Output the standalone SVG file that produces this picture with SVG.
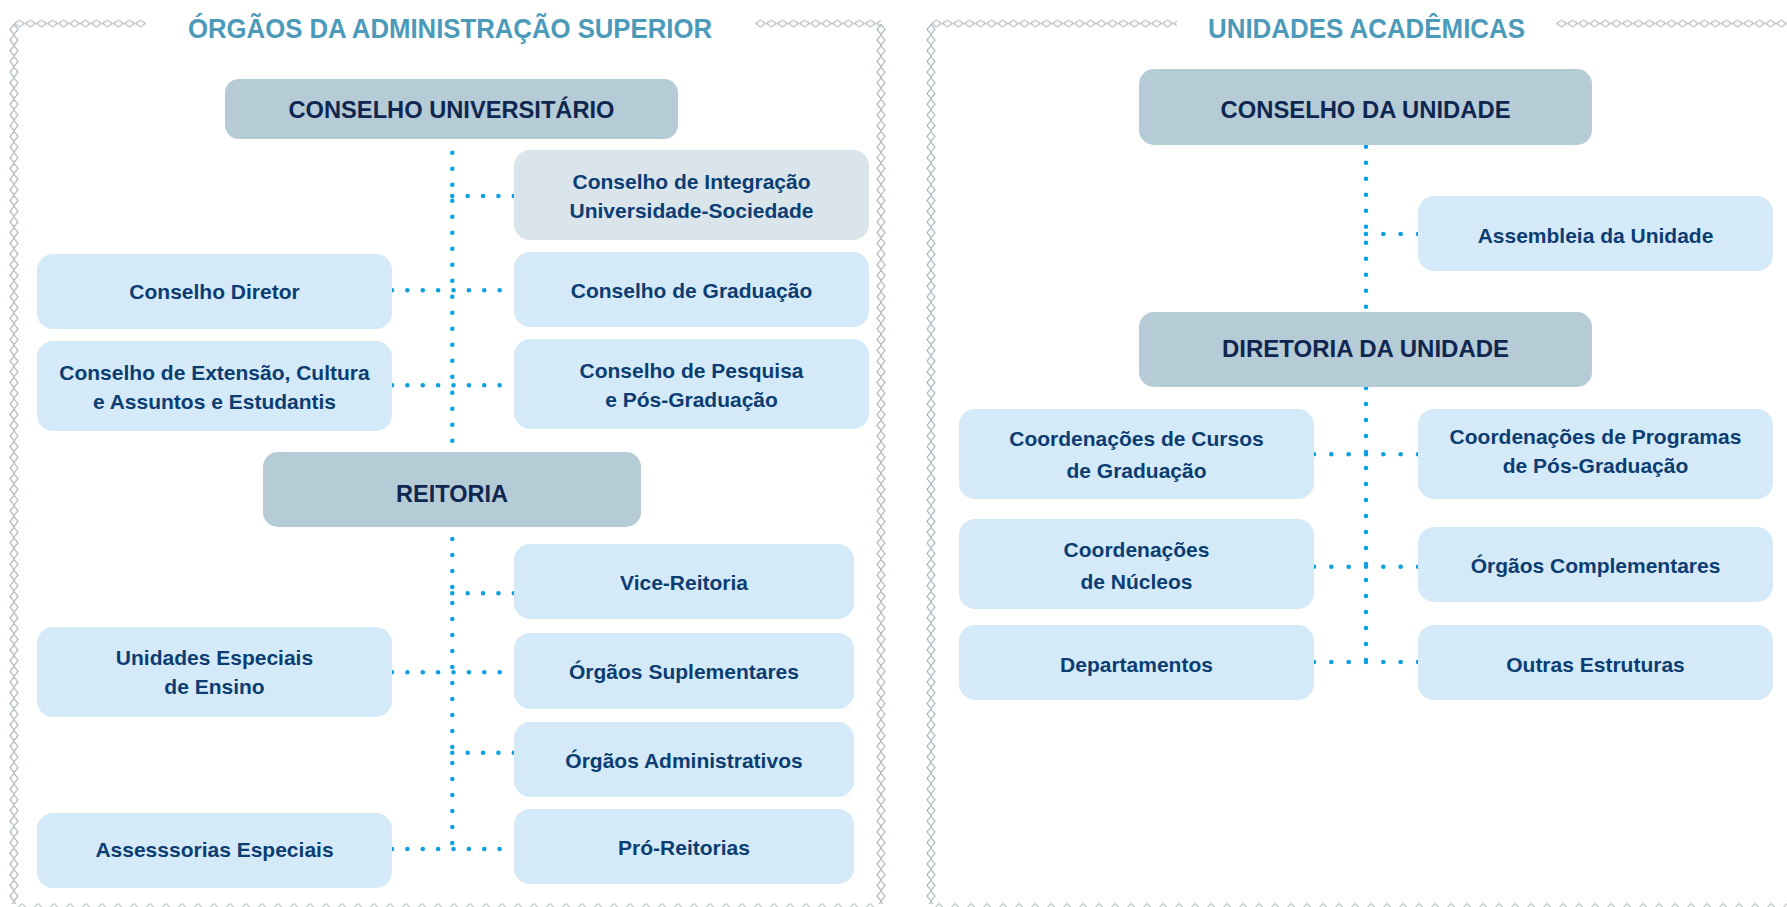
<svg xmlns="http://www.w3.org/2000/svg" width="1787" height="907" viewBox="0 0 1787 907">
<style>
.hdr rect{fill:#b5cbd6}
.hdr text{font-family:"Liberation Sans",Arial,sans-serif;font-weight:bold;font-size:24px;fill:#0f2750;text-anchor:middle}
.nd rect{fill:#d5eaf8}
.nd.grey rect{fill:#d9e4eb}
.nd text{font-family:"Liberation Sans",Arial,sans-serif;font-weight:bold;font-size:21px;fill:#0b3d73;text-anchor:middle}
.ttl{font-family:"Liberation Sans",Arial,sans-serif;font-weight:bold;font-size:27px;fill:#4b9aba}
.dot{fill:none;stroke:#0aa0e2;stroke-width:4.6;stroke-linecap:round}
.dv{stroke-dasharray:0 16}
.dh{stroke-dasharray:0 15.375}
.dr{stroke-dasharray:0 17.33}
.chain{fill:none;stroke:#97a3ad;stroke-width:1}
</style>
<defs>
<pattern id="chainH" patternUnits="userSpaceOnUse" x="0" y="0" width="11" height="8"><path class="chain" d="M0.5 4 L5.5 0.6 L10.5 4 L5.5 7.4 Z"/></pattern>
<pattern id="chainV" patternUnits="userSpaceOnUse" x="0" y="0" width="10" height="10.7"><path class="chain" d="M5 0.5 L9 5.35 L5 10.2 L1 5.35 Z"/></pattern>
<pattern id="chainB" patternUnits="userSpaceOnUse" x="0" y="0" width="16" height="8"><path class="chain" d="M4.5 4 L8 0.5 L11.5 4 L8 7.5 Z"/></pattern>
</defs>
<rect width="1787" height="907" fill="#ffffff"/>
<g id="borders">
<g transform="translate(14,19.5)"><rect width="132" height="8" fill="url(#chainH)"/></g>
<g transform="translate(755,19.5)"><rect width="126" height="8" fill="url(#chainH)"/></g>
<g transform="translate(9,24)"><rect width="10" height="880" fill="url(#chainV)"/></g>
<g transform="translate(876,24)"><rect width="10" height="880" fill="url(#chainV)"/></g>
<g transform="translate(14,903)"><rect width="867" height="8" fill="url(#chainB)"/></g>
<g transform="translate(931,19.5)"><rect width="246" height="8" fill="url(#chainH)"/></g>
<g transform="translate(1556,19.5)"><rect width="231" height="8" fill="url(#chainH)"/></g>
<g transform="translate(926,24)"><rect width="10" height="880" fill="url(#chainV)"/></g>
<g transform="translate(931,903)"><rect width="856" height="8" fill="url(#chainB)"/></g>
</g>
<text class="ttl" x="188" y="37.5" textLength="524" lengthAdjust="spacingAndGlyphs">ÓRGÃOS DA ADMINISTRAÇÃO SUPERIOR</text>
<text class="ttl" x="1208" y="37.5" textLength="317" lengthAdjust="spacingAndGlyphs">UNIDADES ACADÊMICAS</text>
<g id="connectors">
<path class="dot dv" d="M452.3 152.7 V442"/>
<path class="dot dv" d="M452.3 539 V849"/>
<path class="dot dh" d="M452.3 196 H515"/>
<path class="dot dh" d="M392 290.3 H515"/>
<path class="dot dh" d="M392 385.3 H515"/>
<path class="dot dh" d="M452.3 593.3 H515"/>
<path class="dot dh" d="M392 672.3 H515"/>
<path class="dot dh" d="M452.3 752.7 H515"/>
<path class="dot dh" d="M392 849 H515"/>
<path class="dot dv" d="M1366 146.7 V308"/>
<path class="dot dv" d="M1366 388 V662"/>
<path class="dot dr" d="M1366 234 H1418"/>
<path class="dot dr" d="M1314 454.3 H1418"/>
<path class="dot dr" d="M1314 566.7 H1418"/>
<path class="dot dr" d="M1314 662 H1418"/>
</g>
<g id="conselho-universitario" class="hdr"><rect x="225" y="79" width="453" height="60" rx="14"/><text x="451.5" y="118" textLength="326" lengthAdjust="spacingAndGlyphs">CONSELHO UNIVERSITÁRIO</text></g>
<g id="conselho-integracao" class="nd grey"><rect x="514" y="150" width="355" height="90" rx="16"/><text x="691.5" y="189">Conselho de Integração</text><text x="691.5" y="217.5">Universidade-Sociedade</text></g>
<g id="conselho-graduacao" class="nd"><rect x="514" y="252" width="355" height="75" rx="16"/><text x="691.5" y="298">Conselho de Graduação</text></g>
<g id="conselho-pesquisa" class="nd"><rect x="514" y="339" width="355" height="90" rx="16"/><text x="691.5" y="378">Conselho de Pesquisa</text><text x="691.5" y="406.5">e Pós-Graduação</text></g>
<g id="conselho-diretor" class="nd"><rect x="37" y="254" width="355" height="75" rx="16"/><text x="214.5" y="299">Conselho Diretor</text></g>
<g id="conselho-extensao" class="nd"><rect x="37" y="341" width="355" height="90" rx="16"/><text x="214.5" y="380">Conselho de Extensão, Cultura</text><text x="214.5" y="409">e Assuntos e Estudantis</text></g>
<g id="reitoria" class="hdr"><rect x="263" y="452" width="378" height="75" rx="15"/><text x="452" y="502" textLength="112" lengthAdjust="spacingAndGlyphs">REITORIA</text></g>
<g id="vice-reitoria" class="nd"><rect x="514" y="544" width="340" height="75" rx="16"/><text x="684" y="590">Vice-Reitoria</text></g>
<g id="orgaos-suplementares" class="nd"><rect x="514" y="633" width="340" height="76" rx="16"/><text x="684" y="678.5">Órgãos Suplementares</text></g>
<g id="orgaos-administrativos" class="nd"><rect x="514" y="722" width="340" height="75" rx="16"/><text x="684" y="767.5">Órgãos Administrativos</text></g>
<g id="pro-reitorias" class="nd"><rect x="514" y="809" width="340" height="75" rx="16"/><text x="684" y="855">Pró-Reitorias</text></g>
<g id="unidades-especiais" class="nd"><rect x="37" y="627" width="355" height="90" rx="16"/><text x="214.5" y="665">Unidades Especiais</text><text x="214.5" y="694">de Ensino</text></g>
<g id="assessorias-especiais" class="nd"><rect x="37" y="813" width="355" height="75" rx="16"/><text x="214.5" y="857">Assesssorias Especiais</text></g>
<g id="conselho-unidade" class="hdr"><rect x="1139" y="69" width="453" height="76" rx="15"/><text x="1365.5" y="117.5" textLength="290" lengthAdjust="spacingAndGlyphs">CONSELHO DA UNIDADE</text></g>
<g id="assembleia-unidade" class="nd"><rect x="1418" y="196" width="355" height="75" rx="16"/><text x="1595.5" y="242.5">Assembleia da Unidade</text></g>
<g id="diretoria-unidade" class="hdr"><rect x="1139" y="312" width="453" height="75" rx="15"/><text x="1365.5" y="357">DIRETORIA DA UNIDADE</text></g>
<g id="coord-cursos" class="nd"><rect x="959" y="409" width="355" height="90" rx="16"/><text x="1136.5" y="446">Coordenações de Cursos</text><text x="1136.5" y="478">de Graduação</text></g>
<g id="coord-nucleos" class="nd"><rect x="959" y="519" width="355" height="90" rx="16"/><text x="1136.5" y="556.5">Coordenações</text><text x="1136.5" y="589">de Núcleos</text></g>
<g id="departamentos" class="nd"><rect x="959" y="625" width="355" height="75" rx="16"/><text x="1136.5" y="671.5">Departamentos</text></g>
<g id="coord-programas" class="nd"><rect x="1418" y="409" width="355" height="90" rx="16"/><text x="1595.5" y="444">Coordenações de Programas</text><text x="1595.5" y="473">de Pós-Graduação</text></g>
<g id="orgaos-complementares" class="nd"><rect x="1418" y="527" width="355" height="75" rx="16"/><text x="1595.5" y="573">Órgãos Complementares</text></g>
<g id="outras-estruturas" class="nd"><rect x="1418" y="625" width="355" height="75" rx="16"/><text x="1595.5" y="671.5">Outras Estruturas</text></g>
</svg>
